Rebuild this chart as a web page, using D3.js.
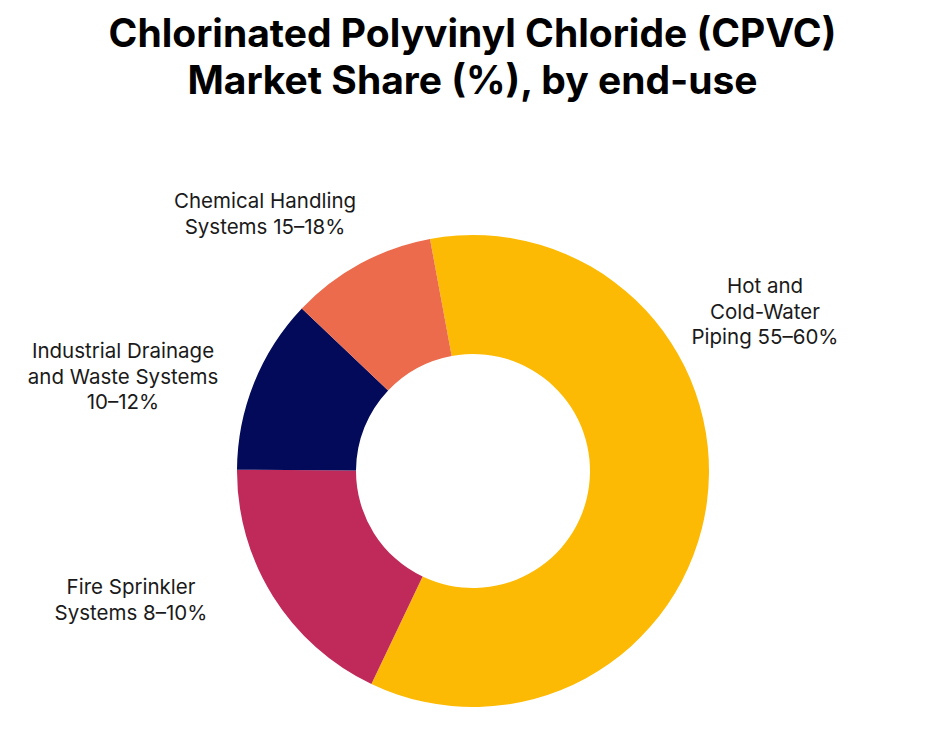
<!DOCTYPE html>
<html>
<head>
<meta charset="utf-8">
<script src="https://cdn.jsdelivr.net/npm/d3@7"></script>
<style>
  body { margin: 0; background: #fff; }
  .title { font-family: Inter, "Noto Sans", sans-serif; font-weight: 700; font-size: 39px; fill: #000; }
  .slice-label { font-family: Inter, "Noto Sans", sans-serif; font-size: 20.5px; fill: #1a1a1a; }
</style>
</head>
<body>
<div id="vis"></div>
<script>
const width = 945, height = 748;

// Chart data
const categories = [
    "Hot and Cold-Water Piping",
    "Fire Sprinkler Systems",
    "Industrial Drainage and Waste Systems",
    "Chemical Handling Systems"
];
const shares = [60, 18, 12, 10];
const labelLines = [
    ["Hot and", "Cold-Water", "Piping 55–60%"],
    ["Fire Sprinkler", "Systems 8–10%"],
    ["Industrial Drainage", "and Waste Systems", "10–12%"],
    ["Chemical Handling", "Systems 15–18%"]
];
const colors = ["#FDBA04", "#BF2A5A", "#030A59", "#EB6B4C"];

// label anchor points (center x, first baseline y) relative to the donut center
const labelOffsets = [
    [292, -178],
    [-342, 123],
    [-350, -113],
    [-208, -263]
];

const cx = 473, cy = 471;
const outerR = 236, innerR = 117;
const startAngle = -10.5 * Math.PI / 180;

const svg = d3.select("#vis")
    .append("svg")
    .attr("width", width)
    .attr("height", height);

// Title
svg.append("text")
    .attr("class", "title")
    .attr("x", width / 2)
    .attr("y", 47)
    .attr("text-anchor", "middle")
    .selectAll("tspan")
    .data(["Chlorinated Polyvinyl Chloride (CPVC)", "Market Share (%), by end-use"])
    .join("tspan")
    .attr("x", width / 2)
    .attr("dy", (d, i) => i === 0 ? 0 : 46.5)
    .text(d => d);

const pie = d3.pie()
    .sort(null)
    .value(d => d)
    .startAngle(startAngle)
    .endAngle(startAngle + 2 * Math.PI);

const arc = d3.arc()
    .innerRadius(innerR)
    .outerRadius(outerR);

const g = svg.append("g")
    .attr("transform", `translate(${cx},${cy})`);

g.selectAll("path")
    .data(pie(shares))
    .join("path")
    .attr("d", arc)
    .attr("fill", (d, i) => colors[i]);

// Labels
const labels = svg.append("g")
    .attr("transform", `translate(${cx},${cy})`);

labelLines.forEach((lines, i) => {
    const [lx, ly] = labelOffsets[i];
    labels.append("text")
        .attr("class", "slice-label")
        .attr("text-anchor", "middle")
        .attr("x", lx)
        .attr("y", ly)
        .selectAll("tspan")
        .data(lines)
        .join("tspan")
        .attr("x", lx)
        .attr("dy", (d, j) => j === 0 ? 0 : 25.5)
        .text(d => d);
});
</script>
</body>
</html>
